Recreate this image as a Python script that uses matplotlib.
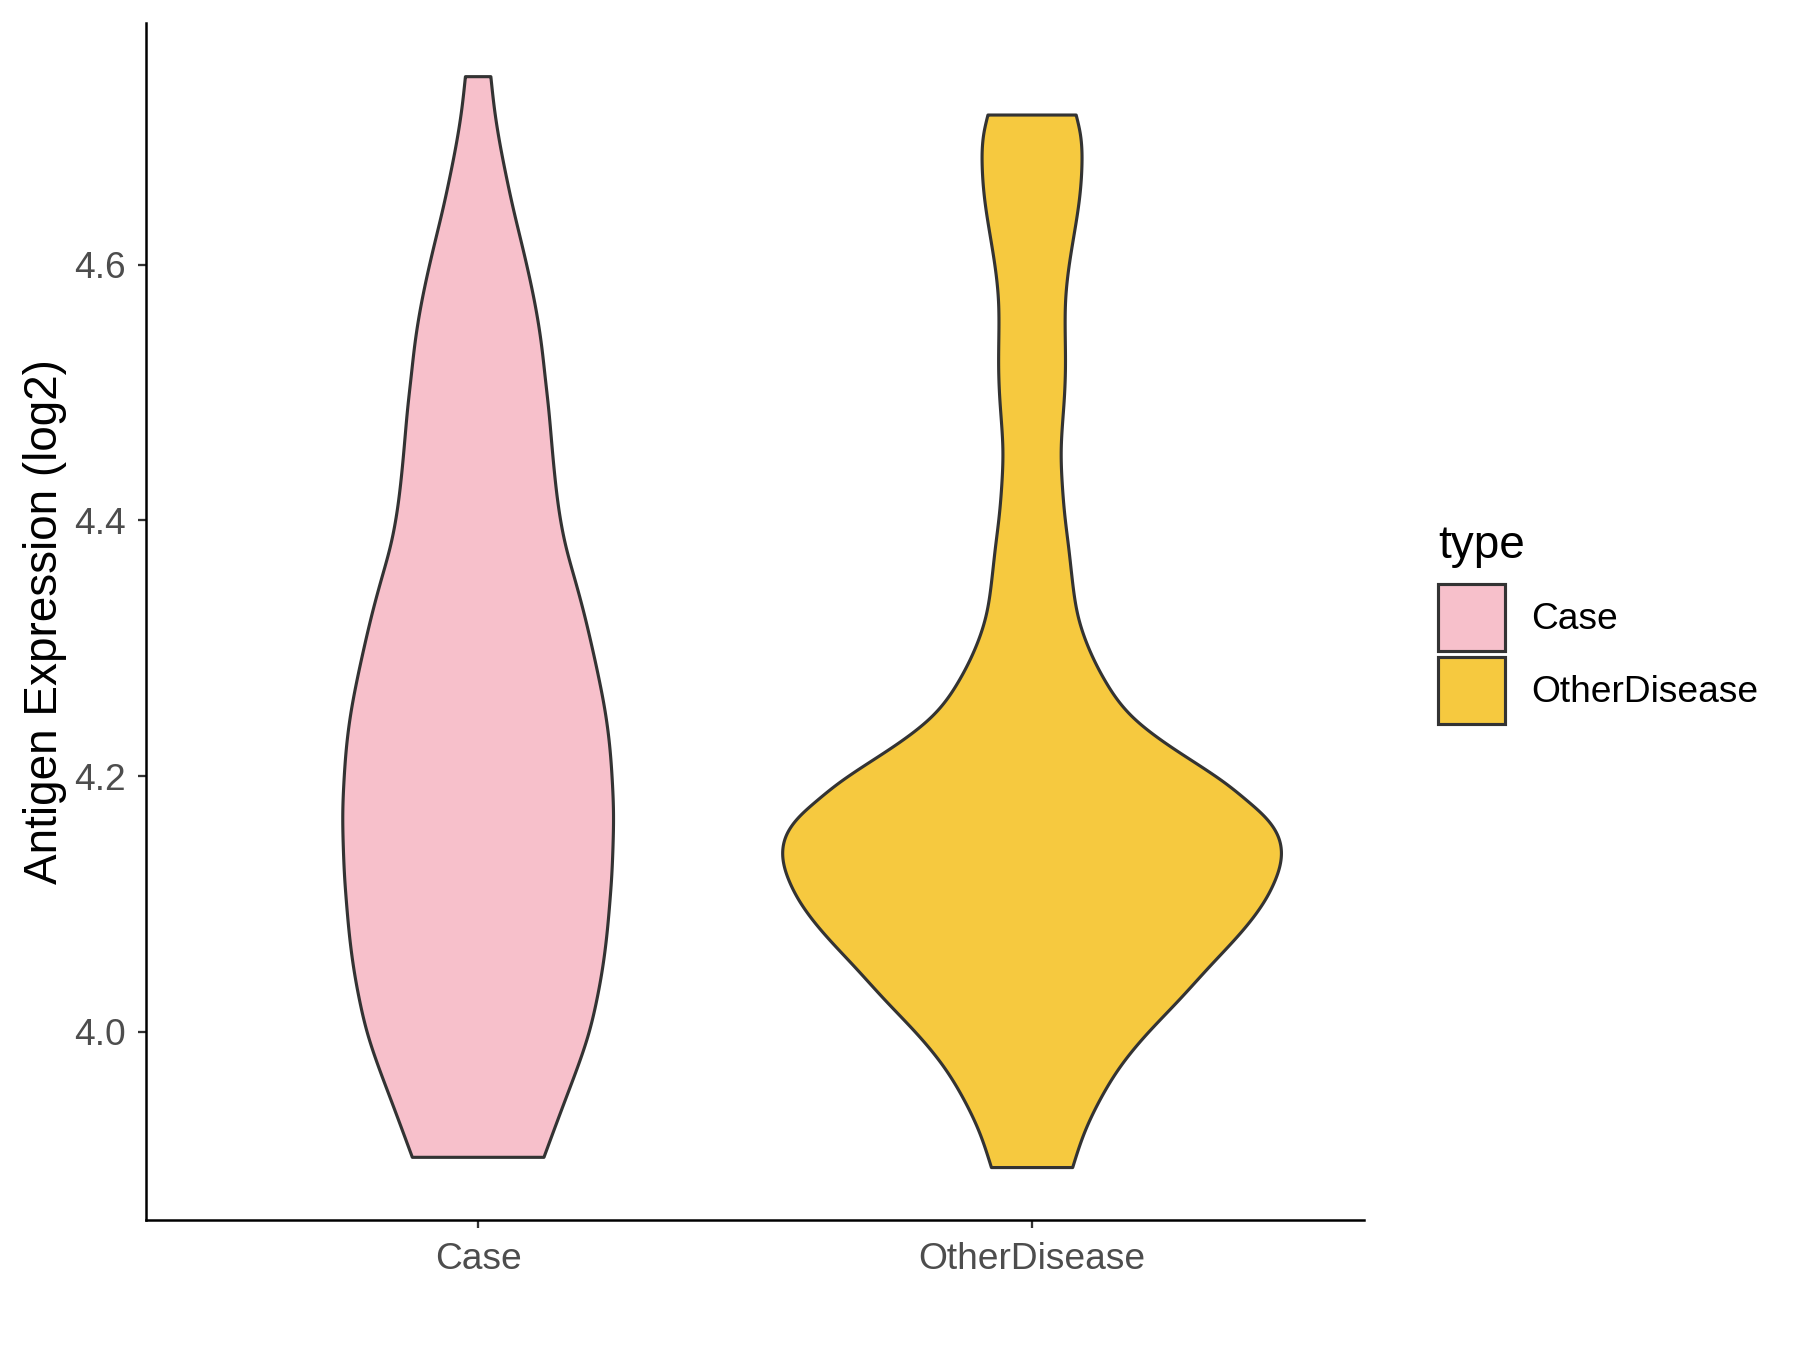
import numpy as np
import matplotlib
matplotlib.use('Agg')
import matplotlib.pyplot as plt
from matplotlib.patches import Patch

plt.rcParams['font.family'] = ['Liberation Sans', 'DejaVu Sans']

# categories and fill colours
categories = ['Case', 'OtherDisease']
fill_colors = ['#F7C0CB', '#F6C93F']

# violin outlines: y (log2 expression) and scaled density (max = 1)
case_y = [3.902, 3.921, 3.947, 3.973, 3.999, 4.025, 4.051, 4.077, 4.103, 4.119,
          4.145, 4.171, 4.197, 4.223, 4.250, 4.275, 4.301, 4.328, 4.354, 4.379,
          4.406, 4.434, 4.461, 4.487, 4.512, 4.539, 4.565, 4.591, 4.617, 4.643,
          4.669, 4.695, 4.721, 4.747]
case_density = [0.264, 0.300, 0.350, 0.400, 0.444, 0.476, 0.500, 0.517, 0.529, 0.535,
                0.541, 0.543, 0.538, 0.528, 0.510, 0.486, 0.457, 0.424, 0.388, 0.353,
                0.326, 0.308, 0.295, 0.283, 0.269, 0.253, 0.232, 0.205, 0.174, 0.142,
                0.113, 0.087, 0.066, 0.051]

other_y = [3.894, 3.921, 3.947, 3.973, 3.999, 4.025, 4.051, 4.077, 4.103, 4.117,
           4.137, 4.156, 4.168, 4.181, 4.195, 4.221, 4.246, 4.273, 4.299, 4.325,
           4.351, 4.377, 4.403, 4.429, 4.455, 4.469, 4.494, 4.520, 4.547, 4.573,
           4.598, 4.625, 4.651, 4.677, 4.703, 4.717]
other_density = [0.163, 0.210, 0.273, 0.355, 0.464, 0.590, 0.712, 0.835, 0.935, 0.972,
                 1.000, 0.980, 0.935, 0.862, 0.772, 0.572, 0.405, 0.298, 0.230, 0.185,
                 0.163, 0.148, 0.132, 0.121, 0.117, 0.120, 0.129, 0.134, 0.133, 0.135,
                 0.148, 0.170, 0.190, 0.200, 0.193, 0.177]

y_ticks = [4.0, 4.2, 4.4, 4.6]


def spline(x, y, n=600):
    # natural cubic spline through the read points
    x = np.asarray(x, float)
    y = np.asarray(y, float)
    m = len(x)
    h = np.diff(x)
    A = np.zeros((m, m))
    b = np.zeros(m)
    A[0, 0] = A[-1, -1] = 1
    for i in range(1, m - 1):
        A[i, i - 1] = h[i - 1]
        A[i, i] = 2 * (h[i - 1] + h[i])
        A[i, i + 1] = h[i]
        b[i] = 3 * ((y[i + 1] - y[i]) / h[i] - (y[i] - y[i - 1]) / h[i - 1])
    c = np.linalg.solve(A, b)
    bc = (y[1:] - y[:-1]) / h - h * (2 * c[:-1] + c[1:]) / 3
    dc = (c[1:] - c[:-1]) / (3 * h)
    xs = np.linspace(x[0], x[-1], n)
    idx = np.clip(np.searchsorted(x, xs) - 1, 0, m - 2)
    dx = xs - x[idx]
    return xs, y[idx] + bc[idx] * dx + c[idx] * dx ** 2 + dc[idx] * dx ** 3


fig = plt.figure(figsize=(12, 9), dpi=150)
ax = fig.add_axes([0.081, 0.0963, 0.677, 0.8867])

profiles = [(case_y, case_density), (other_y, other_density)]
half_max = 0.45
for i, (yy, dd) in enumerate(profiles):
    pos = i + 1
    ys, ds = spline(yy, dd)
    w = ds * half_max
    xs = np.concatenate([pos - w, (pos + w)[::-1]])
    ys2 = np.concatenate([ys, ys[::-1]])
    ax.fill(xs, ys2, facecolor=fill_colors[i], edgecolor='#333333',
            linewidth=1.5, joinstyle='round', zorder=2)

ax.set_xlim(0.4, 2.6)
ax.set_ylim(3.853, 4.789)
ax.set_xticks([1, 2])
ax.set_xticklabels(categories)
ax.set_yticks(y_ticks)
ax.set_yticklabels(['%.1f' % v for v in y_ticks])

for s in ['top', 'right']:
    ax.spines[s].set_visible(False)
for s in ['left', 'bottom']:
    ax.spines[s].set_linewidth(1.2)
    ax.spines[s].set_color('black')

ax.tick_params(axis='both', length=3.8, width=1.1, color='#333333',
               labelsize=17.8, labelcolor='#4D4D4D')
ax.tick_params(axis='x', pad=7)
ax.tick_params(axis='y', pad=6)

ax.set_ylabel('Antigen Expression (log2)', fontsize=22, color='black')
ax.yaxis.set_label_coords(-0.0645, 0.5)

handles = [Patch(facecolor=c, edgecolor='#333333', linewidth=1.5, label=l)
           for c, l in zip(fill_colors, categories)]
leg = fig.legend(handles=handles, title='type', loc='upper left',
                 bbox_to_anchor=(0.799, 0.612), frameon=False, fontsize=17.8,
                 title_fontsize=22, handlelength=1.8, handleheight=2.4,
                 handletextpad=0.7, labelspacing=0.15, borderpad=0, borderaxespad=0)
leg._legend_box.align = 'left'
leg._legend_box.sep = 8

fig.savefig('out.png', dpi=150)
